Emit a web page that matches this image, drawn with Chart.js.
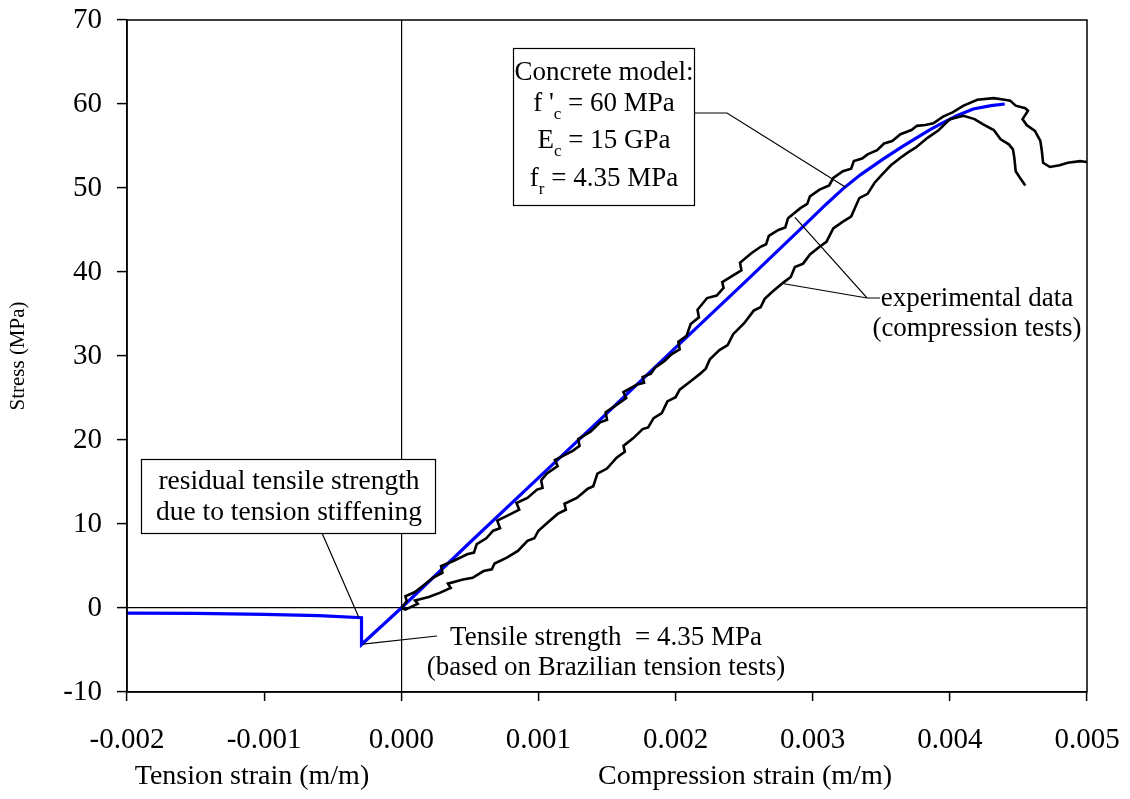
<!DOCTYPE html>
<html>
<head>
<meta charset="utf-8">
<script src="https://cdn.jsdelivr.net/npm/chart.js@4.4.1/dist/chart.umd.min.js"></script>
<style>
  html, body { margin: 0; padding: 0; background: #fff; }
  #wrap { width: 1130px; height: 799px; }
</style>
</head>
<body>
<div id="wrap"><canvas id="grafico"></canvas></div>
<script>
// strain values are in units of 1e-3 m/m, stress in MPa
const xTicks = [-2, -1, 0, 1, 2, 3, 4, 5];
const yTicks = [-10, 0, 10, 20, 30, 40, 50, 60, 70];

// concrete model (blue)
const modelStrain = [-2, -1.5, -1, -0.6, -0.29, -0.29, 0, 0.5, 1, 1.5, 2, 2.5, 2.91, 3.1, 3.22, 3.35, 3.51, 3.65, 3.76, 3.85, 3.93, 4.05, 4.17, 4.3, 4.4];
const modelStress = [-0.6, -0.65, -0.75, -0.9, -1.15, -4.35, 0, 7.8, 15.5, 23.2, 31.0, 38.7, 45.1, 48.1, 49.9, 51.6, 53.4, 54.9, 56.0, 56.9, 57.6, 58.6, 59.4, 59.8, 60.0];

// experimental test 1 (upper curve)
const test1Strain = [0, 0.04, 0.03, 0.1, 0.17, 0.23, 0.3, 0.29, 0.38, 0.48, 0.53, 0.55, 0.62, 0.67, 0.72, 0.7, 0.8, 0.86, 0.84, 0.92,
  0.99, 1.03, 1.02, 1.06, 1.14, 1.12, 1.25, 1.3, 1.29, 1.38, 1.45, 1.5, 1.49, 1.58, 1.64, 1.62, 1.72, 1.77, 1.76, 1.82, 1.85, 1.92,
  1.97, 2.03, 2.02, 2.08, 2.11, 2.17, 2.16, 2.23, 2.3, 2.35, 2.34, 2.42, 2.48, 2.47, 2.55, 2.62, 2.66, 2.68, 2.75, 2.8, 2.82, 2.91,
  2.96, 2.98, 3.05, 3.12, 3.15, 3.22, 3.28, 3.3, 3.36, 3.4, 3.47, 3.52, 3.58, 3.64, 3.72, 3.76, 3.82, 3.88, 3.95, 4.02, 4.1, 4.2, 4.32,
  4.4, 4.44, 4.48, 4.55, 4.57, 4.53, 4.56, 4.62, 4.66, 4.67, 4.68, 4.73, 4.8, 4.86, 4.95, 5.0];
const test1Stress = [0, 0.8, 1.4, 1.9, 2.8, 3.6, 4.2, 5.0, 5.6, 6.4, 6.6, 7.6, 8.3, 9.2, 9.5, 10.4, 11.2, 11.7, 12.5, 13.1,
  14.1, 14.3, 15.2, 16.0, 16.9, 17.6, 18.7, 19.3, 20.1, 21.0, 22.1, 22.4, 23.3, 24.3, 25.0, 25.7, 26.6, 26.8, 27.5, 27.9, 28.6, 29.4,
  30.2, 30.8, 31.7, 32.4, 33.8, 34.6, 35.5, 36.9, 37.2, 38.1, 38.8, 39.6, 40.2, 41.1, 42.2, 43.0, 43.3, 44.3, 45.0, 45.3, 46.4, 47.6,
  48.1, 49.0, 49.8, 50.3, 51.2, 52.0, 52.3, 53.2, 53.5, 54.0, 54.5, 55.3, 55.6, 56.4, 56.9, 57.4, 57.5, 57.7, 58.5, 59.0, 59.8, 60.5, 60.7,
  60.5, 60.4, 59.8, 59.5, 59.2, 58.2, 57.5, 56.8, 55.6, 54.5, 53.0, 52.5, 52.7, 53.0, 53.2, 53.1];

// experimental test 2 (lower curve)
const test2Strain = [0, 0.03, 0.08, 0.12, 0.1, 0.2, 0.28, 0.36, 0.34, 0.45, 0.52, 0.6, 0.66, 0.68, 0.77, 0.85, 0.92, 0.97, 1.0, 1.07, 1.14,
  1.2, 1.19, 1.28, 1.36, 1.4, 1.43, 1.5, 1.57, 1.63, 1.62, 1.69, 1.76, 1.8, 1.84, 1.9, 1.94, 2.0, 2.03, 2.11, 2.18, 2.22,
  2.25, 2.32, 2.38, 2.42, 2.5, 2.57, 2.62, 2.65, 2.71, 2.79, 2.84, 2.87, 2.93, 2.98, 3.05, 3.1, 3.15, 3.22, 3.28, 3.34, 3.4,
  3.45, 3.5, 3.57, 3.64, 3.7, 3.75, 3.84, 3.92, 4.0, 4.1, 4.18, 4.24, 4.32, 4.37, 4.43, 4.46, 4.47, 4.48, 4.52, 4.55];
const test2Stress = [0, -0.2, 0.2, 0.5, 0.9, 1.3, 1.8, 2.4, 2.9, 3.4, 3.6, 4.4, 4.6, 5.3, 6.0, 6.8, 8.0, 8.3, 9.2, 10.2, 11.2,
  11.7, 12.4, 13.1, 14.2, 14.5, 16.0, 16.6, 17.9, 18.6, 19.3, 20.2, 21.3, 21.5, 22.6, 23.2, 24.6, 25.1, 26.0, 27.0, 27.9, 28.5,
  29.6, 30.7, 31.3, 32.6, 33.9, 35.4, 35.8, 36.8, 37.7, 38.8, 39.4, 40.6, 41.0, 42.1, 43.0, 43.6, 45.2, 46.0, 46.6, 48.8, 49.3,
  50.6, 51.5, 52.7, 53.6, 54.3, 54.8, 56.0, 56.9, 58.2, 58.6, 58.2, 57.6, 56.9, 55.8, 55.2, 54.6, 53.6, 52.0, 51.0, 50.3];

const toPoints = (xs, ys) => xs.map((x, i) => ({x: x, y: ys[i]}));

Chart.defaults.font.family = "'Liberation Serif', 'Times New Roman', serif";
Chart.defaults.color = '#000';

const FONT = "'Liberation Serif', 'Times New Roman', serif";

// draws a line of text made of parts, some of them subscripts, centred on cx
const drawRich = (ctx, parts, cx, baseline, size) => {
  const subSize = Math.round(size * 0.62);
  let total = 0;
  parts.forEach(p => {
    ctx.font = (p.sub ? subSize : size) + 'px ' + FONT;
    p.w = ctx.measureText(p.t).width;
    total += p.w;
  });
  let x = cx - total / 2;
  ctx.textAlign = 'left';
  ctx.textBaseline = 'alphabetic';
  parts.forEach(p => {
    ctx.font = (p.sub ? subSize : size) + 'px ' + FONT;
    ctx.fillText(p.t, x, baseline + (p.sub ? size * 0.28 : 0));
    x += p.w;
  });
};

const anotaciones = {
  id: 'anotaciones',
  afterDatasetsDraw(chart) {
    const ctx = chart.ctx;
    const sx = chart.scales.x, sy = chart.scales.y;
    const px = v => sx.getPixelForValue(v);
    const py = v => sy.getPixelForValue(v);
    ctx.save();
    ctx.strokeStyle = '#000';
    ctx.fillStyle = '#000';
    ctx.lineWidth = 1.2;

    // leader lines
    ctx.beginPath();
    // concrete model box -> model curve
    ctx.moveTo(694, 113); ctx.lineTo(727, 113); ctx.lineTo(px(3.24), py(50.1));
    // experimental data -> both curves
    ctx.moveTo(880, 298); ctx.lineTo(867, 298); ctx.lineTo(px(2.87), py(46.5));
    ctx.moveTo(867, 298); ctx.lineTo(px(2.79), py(38.6));
    // residual box -> model
    ctx.moveTo(322, 533); ctx.lineTo(px(-0.31), py(-1.1));
    // tensile strength -> model
    ctx.moveTo(px(-0.28), py(-4.3)); ctx.lineTo(437, 636);
    ctx.stroke();

    // concrete model box
    ctx.fillStyle = '#fff';
    ctx.fillRect(513, 48, 181, 157);
    ctx.strokeRect(513.5, 48.5, 181, 157);
    ctx.fillStyle = '#000';
    drawRich(ctx, [{t: 'Concrete model:'}], 604, 80, 27);
    drawRich(ctx, [{t: "f '"}, {t: 'c', sub: true}, {t: ' = 60 MPa'}], 604, 111, 27);
    drawRich(ctx, [{t: 'E'}, {t: 'c', sub: true}, {t: ' = 15 GPa'}], 604, 148, 27);
    drawRich(ctx, [{t: 'f'}, {t: 'r', sub: true}, {t: ' = 4.35 MPa'}], 604, 186, 27);

    // residual tensile strength box
    ctx.fillStyle = '#fff';
    ctx.fillRect(141, 459, 294, 74);
    ctx.strokeRect(141.5, 459.5, 294, 74);
    ctx.fillStyle = '#000';
    drawRich(ctx, [{t: 'residual tensile strength'}], 289, 489, 27.5);
    drawRich(ctx, [{t: 'due to tension stiffening'}], 289, 520, 27.5);

    // tensile strength note
    drawRich(ctx, [{t: 'Tensile strength  = 4.35 MPa'}], 606, 645, 27);
    drawRich(ctx, [{t: '(based on Brazilian tension tests)'}], 606, 675, 27);

    // experimental data note
    drawRich(ctx, [{t: 'experimental data'}], 977, 306, 27);
    drawRich(ctx, [{t: '(compression tests)'}], 977, 336, 27);

    // frame
    const a = chart.chartArea;
    ctx.lineWidth = 1.5;
    ctx.strokeRect(a.left, a.top, a.right - a.left, a.bottom - a.top);

    // axis titles
    drawRich(ctx, [{t: 'Tension strain (m/m)'}], 252, 784, 28);
    drawRich(ctx, [{t: 'Compression strain (m/m)'}], 745, 784, 28);
    ctx.translate(24, 356);
    ctx.rotate(-Math.PI / 2);
    drawRich(ctx, [{t: 'Stress (MPa)'}], 0, 0, 21);
    ctx.restore();
  }
};

const config = {
  type: 'scatter',
  data: {
    datasets: [
      {
        label: 'experimental 1',
        data: toPoints(test1Strain, test1Stress),
        showLine: true, borderColor: '#000', borderWidth: 2.6,
        pointRadius: 0, tension: 0
      },
      {
        label: 'experimental 2',
        data: toPoints(test2Strain, test2Stress),
        showLine: true, borderColor: '#000', borderWidth: 2.6,
        pointRadius: 0, tension: 0
      },
      {
        label: 'Concrete model',
        data: toPoints(modelStrain, modelStress),
        showLine: true, borderColor: '#0000ff', borderWidth: 3.2,
        pointRadius: 0, tension: 0
      },
    ],
  },
  options: {
    responsive: true,
    maintainAspectRatio: false,
    animation: false,
    layout: { padding: { left: 0, top: 20, right: 43, bottom: 0 } },
    plugins: {
      legend: { display: false },
      tooltip: { enabled: false },
    },
    scales: {
      x: {
        type: 'linear',
        min: xTicks[0], max: xTicks[xTicks.length - 1],
        afterBuildTicks: s => { s.ticks = xTicks.map(v => ({value: v})); },
        afterFit: s => { s.height = 107; s.paddingLeft = 0; s.paddingRight = 0; },
        ticks: {
          font: { size: 29 },
          padding: 22,
          maxRotation: 0,
          callback: v => (v / 1000).toFixed(3),
        },
        grid: {
          color: c => (c.tick && c.tick.value === 0) ? '#000' : 'rgba(0,0,0,0)',
          lineWidth: 1.2,
          tickColor: '#000',
          tickLength: 9,
          tickWidth: 1.5,
        },
        border: { display: true, color: '#000', width: 1.5 },
      },
      y: {
        type: 'linear',
        min: yTicks[0], max: yTicks[yTicks.length - 1],
        afterBuildTicks: s => { s.ticks = yTicks.map(v => ({value: v})); },
        afterFit: s => { s.width = 127; s.paddingTop = 0; s.paddingBottom = 0; },
        ticks: {
          font: { size: 29 },
          padding: 15,
          callback: v => String(v),
        },
        grid: {
          color: c => (c.tick && c.tick.value === 0) ? '#000' : 'rgba(0,0,0,0)',
          lineWidth: 1.2,
          tickColor: '#000',
          tickLength: 10,
          tickWidth: 1.5,
        },
        border: { display: true, color: '#000', width: 1.5 },
      },
    },
  },
  plugins: [anotaciones],
};

const myChart = new Chart(document.getElementById('grafico'), config);
</script>
</body>
</html>
